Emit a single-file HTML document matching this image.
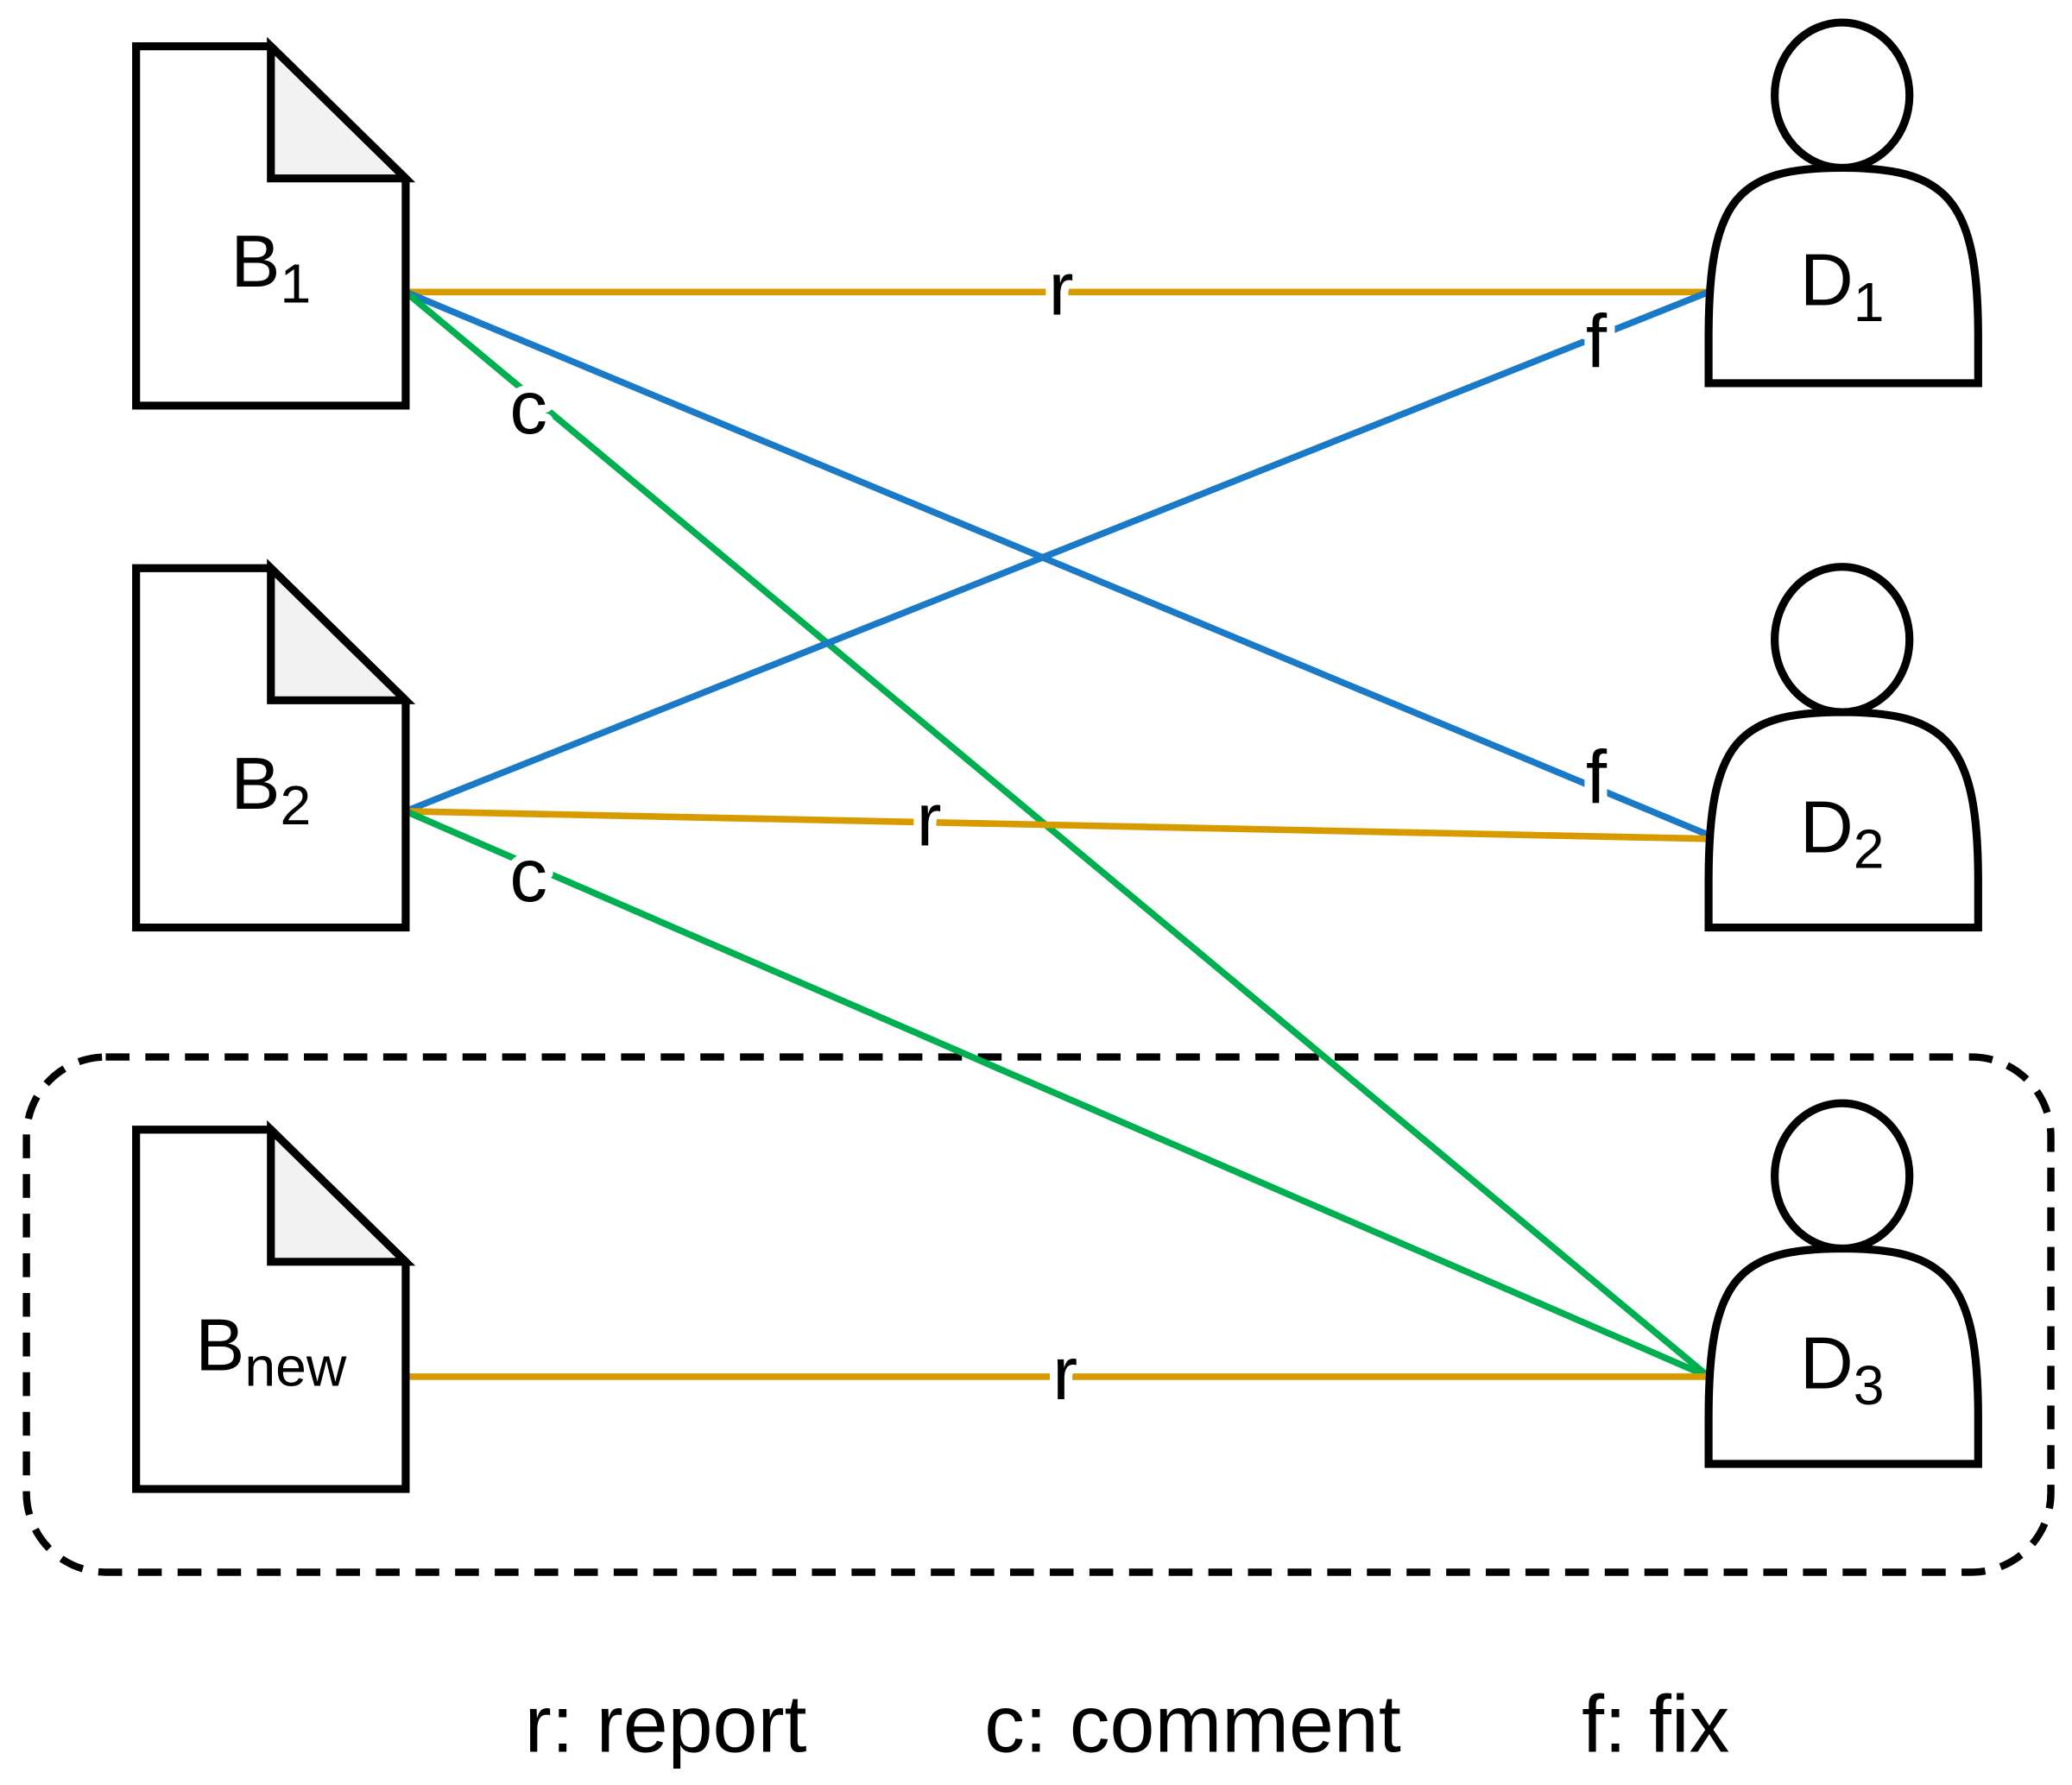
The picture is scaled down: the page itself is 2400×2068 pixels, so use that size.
<!DOCTYPE html>
<html><head><meta charset="utf-8"><style>
html,body{margin:0;padding:0;background:#fff}
svg{display:block}
text{font-family:"Liberation Sans",Arial,sans-serif;fill:#000}
.lbl{paint-order:stroke;stroke:#fff;stroke-width:12px;stroke-linejoin:round}
</style></head><body>
<svg width="2400" height="2068" viewBox="0 0 1568 1351" xmlns="http://www.w3.org/2000/svg">
<rect width="1568" height="1351" fill="#fff"/>
<rect x="20" y="800" width="1532" height="390" rx="60" fill="none" stroke="#000" stroke-width="5.5" stroke-dasharray="18 12"/>
<g stroke-width="5" fill="none">
<line x1="307" y1="221" x2="1293" y2="221" stroke="#d79b00"/>
<line x1="307" y1="221" x2="1293" y2="632" stroke="#1a7ac8"/>
<line x1="307" y1="221" x2="1293" y2="1042" stroke="#00b050"/>
<line x1="307" y1="614" x2="1293" y2="221" stroke="#1a7ac8"/>
<line x1="307" y1="614" x2="1300" y2="635" stroke="#d79b00"/>
<line x1="307" y1="614" x2="1293" y2="1042" stroke="#00b050"/>
<line x1="307" y1="1042" x2="1293" y2="1042" stroke="#d79b00"/>
</g>
<g font-size="57" text-anchor="middle">
<text class="lbl" x="803" y="238">r</text>
<text class="lbl" x="1208" y="278">f</text>
<text class="lbl" x="1208" y="608">f</text>
<text class="lbl" x="400" y="328">c</text>
<text class="lbl" x="703" y="640">r</text>
<text class="lbl" x="400" y="682">c</text>
<text class="lbl" x="806" y="1059">r</text>
</g>
<g stroke="#000" stroke-width="6" stroke-linejoin="miter">
<path d="M103,35 L205,35 L307,135 L307,307 L103,307 Z" fill="#fff"/>
<path d="M205,35 L205,135 L307,135 Z" fill="#f2f2f2"/>
<path d="M103,430 L205,430 L307,530 L307,702 L103,702 Z" fill="#fff"/>
<path d="M205,430 L205,530 L307,530 Z" fill="#f2f2f2"/>
<path d="M103,855 L205,855 L307,955 L307,1127 L103,1127 Z" fill="#fff"/>
<path d="M205,855 L205,955 L307,955 Z" fill="#f2f2f2"/>
</g>
<g font-size="56" text-anchor="middle">
<text x="205" y="217">B<tspan font-size="42" dy="12">1</tspan></text>
<text x="205" y="612">B<tspan font-size="42" dy="12">2</tspan></text>
<text x="205" y="1037">B<tspan font-size="42" dy="12">new</tspan></text>
</g>
<g stroke="#000" stroke-width="6" fill="#fff">
<g>
<path d="M1293,290 L1293,255 C1293,150 1315,127 1394,127 C1473,127 1497,150 1497,255 L1497,290 Z"/>
<ellipse cx="1394" cy="72" rx="51" ry="55"/>
</g>
<g transform="translate(0,412)">
<path d="M1293,290 L1293,255 C1293,150 1315,127 1394,127 C1473,127 1497,150 1497,255 L1497,290 Z"/>
<ellipse cx="1394" cy="72" rx="51" ry="55"/>
</g>
<g transform="translate(0,818)">
<path d="M1293,290 L1293,255 C1293,150 1315,127 1394,127 C1473,127 1497,150 1497,255 L1497,290 Z"/>
<ellipse cx="1394" cy="72" rx="51" ry="55"/>
</g>
</g>
<g font-size="56" text-anchor="middle">
<text x="1394" y="231">D<tspan font-size="42" dy="12">1</tspan></text>
<text x="1394" y="645">D<tspan font-size="42" dy="12">2</tspan></text>
<text x="1394" y="1051">D<tspan font-size="42" dy="12">3</tspan></text>
</g>
<g font-size="61">
<text x="397" y="1326">r: report</text>
<text x="745" y="1326">c: comment</text>
<text x="1197" y="1326">f: fix</text>
</g>
</svg>
</body></html>
